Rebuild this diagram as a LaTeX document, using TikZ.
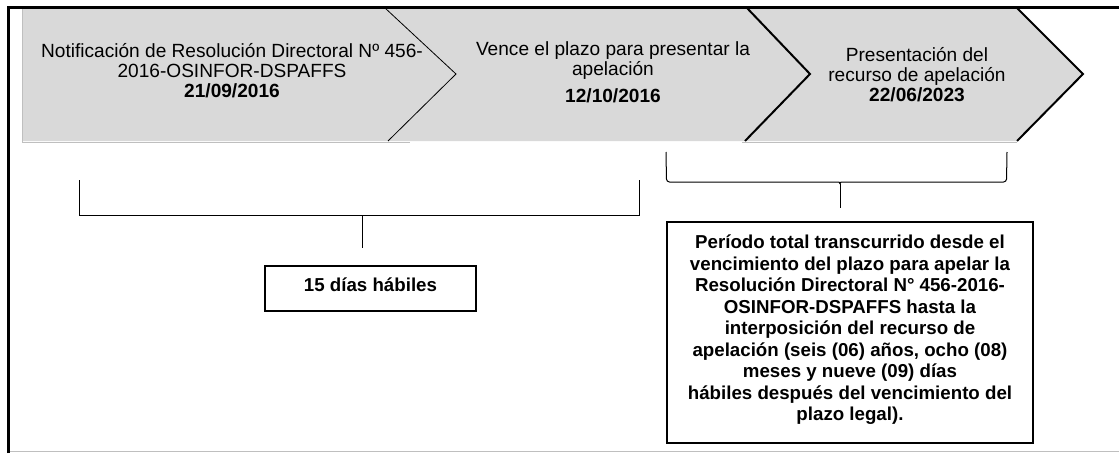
\documentclass[tikz,border=0pt]{standalone}
\usepackage{fontspec}
\setmainfont{Liberation Sans}
\begin{document}
\begin{tikzpicture}[x=1pt,y=-1pt,
  txt/.style={align=center,font=\fontsize{19.1}{20}\selectfont,inner sep=0pt},
  boxtxt/.style={align=center,font=\fontsize{18.7}{21.5}\selectfont\bfseries,inner sep=0pt},
  framebox/.style={draw=black,line width=1.6pt},
  thinline/.style={draw=black,line width=1pt},
  grayline/.style={draw=black!25,line width=1pt},
  chev/.style={draw=black,line width=2pt,line join=miter}]
\useasboundingbox (0,0) rectangle (1119,453);
% gray chevron band
\fill[black!15] (22,8) -- (1017,8) -- (1083,75) -- (1017,141) -- (22,141) -- cycle;
\draw[grayline] (22,8) -- (22,142);
\draw[grayline] (22,142) -- (410,142);
\draw[grayline] (742,142) -- (1017,142);
% chevron borders
\draw[black,line width=0.8pt] (385,8) -- (456,74) -- (388,141);
\draw[chev] (747,8) -- (810,74) -- (745,141);
\draw[chev] (1017,8) -- (1083,74) -- (1017,141);
% frame
\draw[black,line width=3pt] (8.5,453) -- (8.5,7) -- (1119,7);
\draw[grayline] (10,451.5) -- (1119,451.5);
% chevron texts
\node[txt] (c1) at (232,71) {Notificación de Resolución Directoral Nº 456-\\2016-OSINFOR-DSPAFFS\\\textbf{21/09/2016}};
\node[txt] (c2) at (613,72) {Vence el plazo para presentar la\\apelación\\[7pt]\textbf{12/10/2016}};
\node[txt] (c3) at (917,75) {Presentación del\\recurso de apelación\\\textbf{22/06/2023}};
% left bracket
\coordinate (b1a) at (79,180);
\coordinate (b1b) at (79,215);
\coordinate (b1c) at (639,215);
\coordinate (b1d) at (639,180);
\coordinate (b1m) at (362,215);
\coordinate (b1s) at (362,248);
\draw[thinline] (b1a) -- (b1b) -- (b1c) -- (b1d);
\draw[thinline] (b1m) -- (b1s);
% 15 dias box
\node[framebox,minimum width=211pt,minimum height=45pt,inner sep=0pt] (box1) at (370.5,288.5) {};
\node[boxtxt] (t1) at (370.5,285) {15 días hábiles};
% right bracket
\coordinate (b2a) at (666,152);
\coordinate (b2d) at (1007,152);
\coordinate (b2m) at (840,184);
\coordinate (b2s) at (840,208);
\draw[thinline,rounded corners=3pt] (b2a) -- (666.5,182) -- (836,182) .. controls (839,182) and (840,183) .. (b2m);
\draw[thinline,rounded corners=3pt] (b2d) -- (1006.5,182) -- (844,182) .. controls (841,182) and (840,183) .. (b2m);
\draw[thinline] (b2m) -- (b2s);
% period box
\node[framebox,minimum width=366pt,minimum height=221pt,inner sep=0pt] (box2) at (850,332.5) {};
\node[boxtxt,anchor=north] (t2) at (850,235) {Período total transcurrido desde el\\vencimiento del plazo para apelar la\\Resolución Directoral N° 456-2016-\\OSINFOR-DSPAFFS hasta la\\interposición del recurso de\\apelación (seis (06) años, ocho (08)\\meses y nueve (09) días\\hábiles después del vencimiento del\\plazo legal).};
\end{tikzpicture}
\end{document}
